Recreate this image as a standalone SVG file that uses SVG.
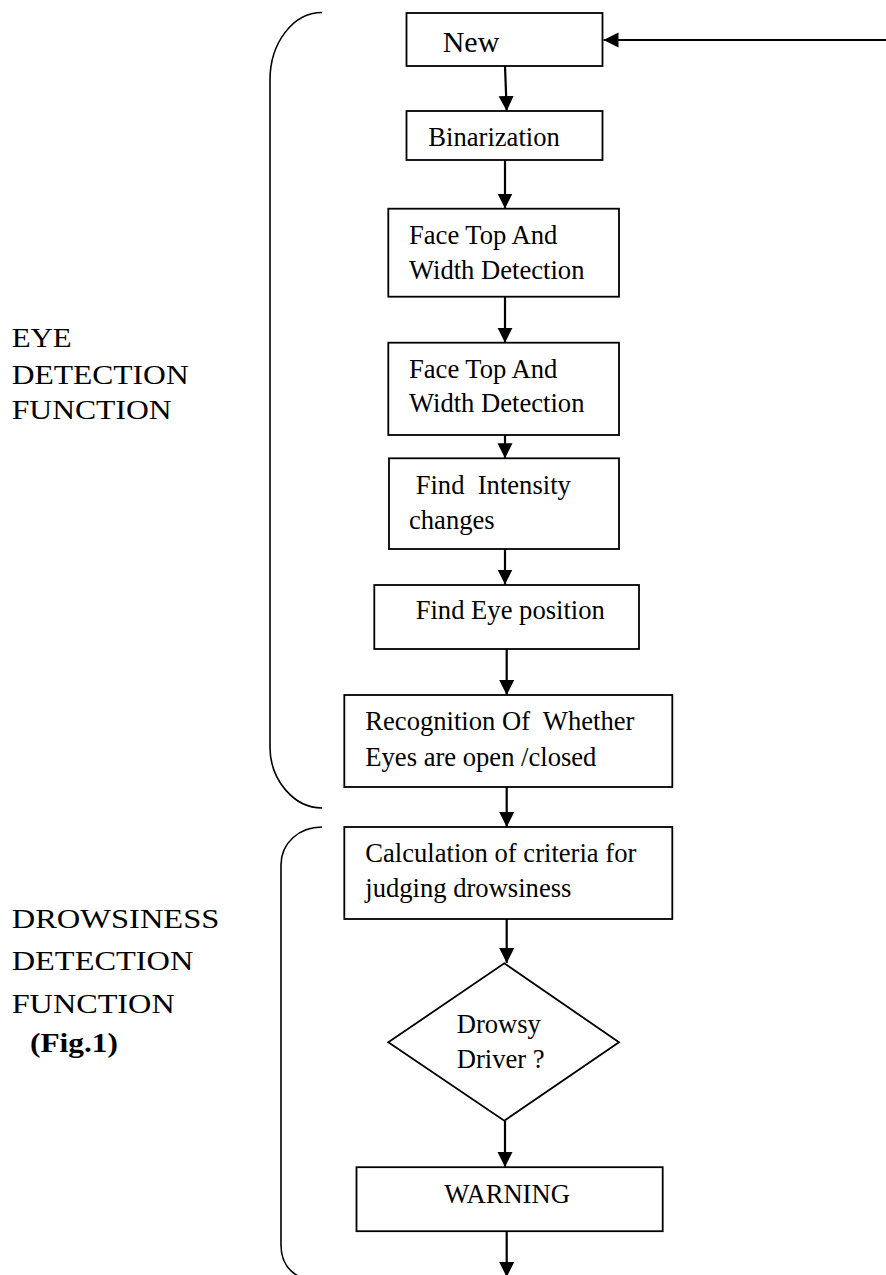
<svg xmlns="http://www.w3.org/2000/svg" width="886" height="1275" viewBox="0 0 886 1275">
<style>
.box{fill:#fff;stroke:#000;stroke-width:1.8}
.t{font-family:"Liberation Serif","Times New Roman",serif;font-size:26.6px;fill:#000}
.big{font-size:30px}
.lbl{font-family:"Liberation Serif","Times New Roman",serif;font-size:26.5px;fill:#000}
.conn{fill:none;stroke:#000;stroke-width:2.2;marker-end:url(#ah)}
.br{fill:none;stroke:#000;stroke-width:1.6}
</style>
<defs>
<marker id="ah" markerUnits="userSpaceOnUse" markerWidth="16" markerHeight="16" refX="15" refY="7.5" orient="auto">
<path d="M0,0 L15,7.5 L0,15 Z" fill="#000"/>
</marker>
</defs>
<rect width="886" height="1275" fill="#fff"/>

<g id="brackets">
<path class="br" d="M322,12.5 C293,12.5 270,43 270,80 L270,747 C270,780 294,808 322,808"/>
<path class="br" d="M322,827 C299,827 281,843 281,865 L281,1245 C281,1262 290,1272 300,1277"/>
</g>

<g id="labels">
<text class="lbl" x="11.7" y="346.7" textLength="60" lengthAdjust="spacingAndGlyphs">EYE</text>
<text class="lbl" x="11.7" y="384" textLength="177" lengthAdjust="spacingAndGlyphs">DETECTION</text>
<text class="lbl" x="11.7" y="419" textLength="160" lengthAdjust="spacingAndGlyphs">FUNCTION</text>
<text class="lbl" x="11.7" y="928.3" textLength="207.7" lengthAdjust="spacingAndGlyphs">DROWSINESS</text>
<text class="lbl" x="11.7" y="970" textLength="181.7" lengthAdjust="spacingAndGlyphs">DETECTION</text>
<text class="lbl" x="11.7" y="1012.5" textLength="163" lengthAdjust="spacingAndGlyphs">FUNCTION</text>
<text class="lbl" x="30" y="1051.7" font-weight="bold" textLength="88" lengthAdjust="spacingAndGlyphs">(Fig.1)</text>
</g>

<g id="connectors">
<line class="conn" x1="886" y1="40" x2="603.5" y2="40"/>
<line class="conn" x1="505" y1="66" x2="506.7" y2="111"/>
<line class="conn" x1="505" y1="160" x2="505" y2="208.5"/>
<line class="conn" x1="505" y1="297" x2="505" y2="342.7"/>
<line class="conn" x1="505" y1="415.7" x2="505" y2="458.3"/>
<line class="conn" x1="505" y1="549" x2="505" y2="584.5"/>
<line class="conn" x1="506.7" y1="649" x2="506.7" y2="695"/>
<line class="conn" x1="506.7" y1="787" x2="506.7" y2="827"/>
<line class="conn" x1="506.7" y1="919" x2="506.7" y2="963"/>
<line class="conn" x1="505" y1="1121" x2="505" y2="1167"/>
<line class="conn" x1="506.7" y1="1231" x2="506.7" y2="1277"/>
</g>

<g id="n-new">
<rect class="box" x="406.5" y="13" width="196" height="53"/>
<text class="t big" x="442.7" y="52.3">New</text>
</g>
<g id="n-binarization">
<rect class="box" x="406.5" y="111" width="196" height="49"/>
<text class="t" x="428.3" y="146">Binarization</text>
</g>
<g id="n-face1">
<rect class="box" x="388.3" y="208.7" width="230.7" height="88"/>
<text class="t" x="409" y="244">Face Top And</text>
<text class="t" x="409" y="279">Width Detection</text>
</g>
<g id="n-face2">
<rect class="box" x="388.3" y="342.7" width="230.7" height="92.3"/>
<text class="t" x="409" y="378.3">Face Top And</text>
<text class="t" x="409" y="412.3">Width Detection</text>
</g>
<g id="n-intensity">
<rect class="box" x="389" y="458.3" width="230" height="90.7"/>
<text class="t" x="415.7" y="494" xml:space="preserve">Find  Intensity</text>
<text class="t" x="409" y="529">changes</text>
</g>
<g id="n-eyepos">
<rect class="box" x="374.3" y="585" width="264.7" height="64"/>
<text class="t" x="415.7" y="619.3">Find Eye position</text>
</g>
<g id="n-recognition">
<rect class="box" x="344.3" y="695" width="328" height="92"/>
<text class="t" x="365.3" y="730" xml:space="preserve">Recognition Of  Whether</text>
<text class="t" x="365.3" y="765.7">Eyes are open /closed</text>
</g>
<g id="n-calculation">
<rect class="box" x="344.3" y="827" width="328" height="92"/>
<text class="t" x="365.3" y="861.7">Calculation of criteria for</text>
<text class="t" x="365.3" y="896.7">judging drowsiness</text>
</g>
<g id="n-drowsy">
<polygon class="box" points="504.3,963.3 619,1042.3 504.3,1120.7 388.3,1042.3"/>
<text class="t" x="456.7" y="1033.3">Drowsy</text>
<text class="t" x="456.7" y="1067.7">Driver ?</text>
</g>
<g id="n-warning">
<rect class="box" x="356.5" y="1167.2" width="306.2" height="64"/>
<text class="t" x="444.3" y="1202.7">WARNING</text>
</g>
</svg>
